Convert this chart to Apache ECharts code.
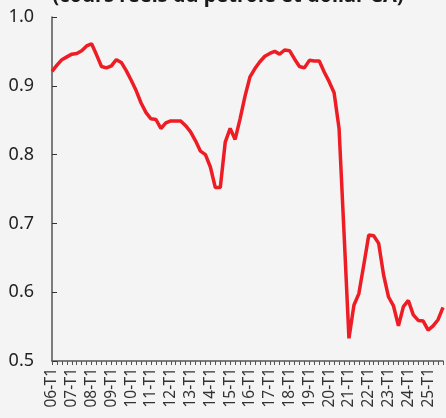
<!DOCTYPE html>
<html>
<head>
<meta charset="utf-8">
<script src="https://cdn.jsdelivr.net/npm/echarts@6/dist/echarts.min.js"></script>
<style>
  html, body { margin: 0; padding: 0; background: #f3f4f3; }
  #chart { width: 446px; height: 418px; }
</style>
</head>
<body>
<div id="chart"></div>
<script>
// trimestres 06-T1 .. 25-T4
var years = ["06", "07", "08", "09", "10", "11", "12", "13", "14", "15",
  "16", "17", "18", "19", "20", "21", "22", "23", "24", "25"];
var quarters = ["T1", "T2", "T3", "T4"];
var categories = [];
years.forEach(function (y) {
  quarters.forEach(function (q) {
    categories.push(y + "-" + q);
  });
});

var values = [
  0.921, 0.930, 0.938, 0.942, 0.946, 0.947, 0.951, 0.958, 0.961, 0.945,
  0.928, 0.926, 0.929, 0.938, 0.934, 0.922, 0.908, 0.893, 0.875, 0.861,
  0.852, 0.851, 0.838, 0.846, 0.849, 0.849, 0.849, 0.842, 0.833, 0.820,
  0.805, 0.800, 0.782, 0.752, 0.752, 0.818, 0.838, 0.822, 0.852, 0.885,
  0.913, 0.925, 0.935, 0.943, 0.947, 0.950, 0.946, 0.952, 0.951, 0.939,
  0.928, 0.926, 0.937, 0.936, 0.936, 0.920, 0.906, 0.890, 0.838, 0.687,
  0.533, 0.581, 0.598, 0.640, 0.683, 0.682, 0.671, 0.625, 0.593, 0.580,
  0.551, 0.579, 0.588, 0.567, 0.559, 0.558, 0.545, 0.551, 0.560, 0.578
];

var titleText = "(cours réels du pétrole et dollar CA)";

var chart = echarts.init(document.getElementById("chart"));
var options = {
  backgroundColor: "#f3f4f3",
  animation: false,
  textStyle: { fontFamily: "Noto Sans" },
  graphic: [
    {
      type: "text",
      x: 228,
      y: 6,
      style: {
        text: titleText,
        fontFamily: "Noto Sans",
        fontWeight: "bold",
        fontSize: 20,
        fill: "#1a1a1a",
        align: "center",
        verticalAlign: "bottom",
      },
    },
  ],
  grid: {
    top: 17,
    left: 52,
    right: 3,
    bottom: 57,
  },
  xAxis: {
    type: "category",
    data: categories,
    boundaryGap: false,
    axisLine: { lineStyle: { color: "#555", width: 1.5 } },
    axisTick: {
      show: true,
      interval: 0,
      length: 4,
      lineStyle: { color: "#555" },
    },
    axisLabel: {
      interval: 3,
      rotate: 90,
      fontSize: 15.5,
      color: "#333",
      margin: 7,
    },
    splitLine: { show: false },
  },
  yAxis: {
    type: "value",
    min: 0.5,
    max: 1.0,
    interval: 0.1,
    axisLine: { show: true, lineStyle: { color: "#555", width: 1.5 } },
    axisTick: {
      show: true,
      inside: true,
      length: 5,
      lineStyle: { color: "#333" },
    },
    axisLabel: {
      fontSize: 18,
      color: "#222",
      margin: 18,
      formatter: function (v) {
        return v.toFixed(1);
      },
    },
    splitLine: { show: false },
  },
  series: [
    {
      type: "line",
      data: values,
      showSymbol: false,
      smooth: false,
      lineStyle: { color: "#ee1c25", width: 3.5 },
    },
  ],
};
chart.setOption(options, true);
</script>
</body>
</html>
